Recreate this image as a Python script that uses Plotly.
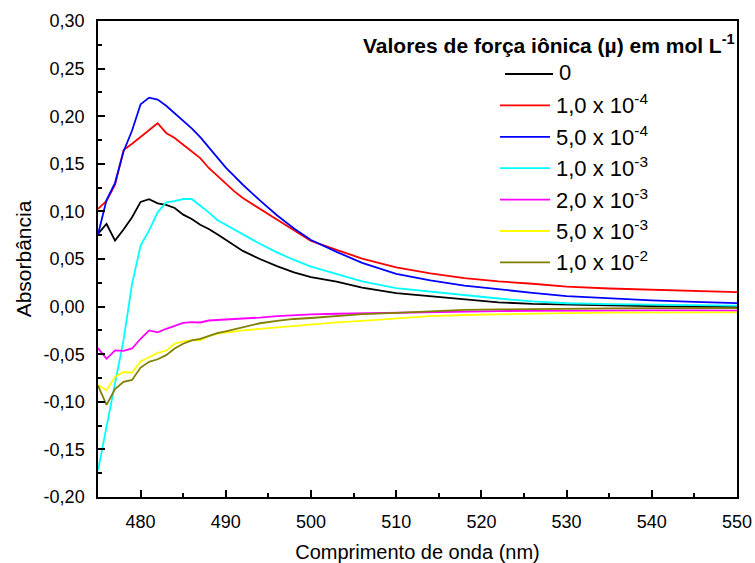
import plotly.graph_objects as go

# Wavelength grid (nm)
wavelength = [475, 476, 477, 478, 479, 480, 481, 482, 483, 484, 485, 486, 487, 488, 489, 490, 491, 492,
              494, 496, 498, 500, 503, 506, 510, 514, 518, 522, 526, 530, 535, 540, 545, 550]

# Absorbance for each ionic strength
abs_0 = [0.0763, 0.0868, 0.0693, 0.0809, 0.0938, 0.1100, 0.1128, 0.1085, 0.1068, 0.1036, 0.0966, 0.0920,
         0.0860, 0.0816, 0.0760, 0.0700, 0.0640, 0.0585,
         0.0500, 0.0425, 0.0360, 0.0310, 0.0262, 0.0200, 0.0141, 0.0110, 0.0075, 0.0045, 0.0028, 0.0018,
         0.0012, 0.0006, 0.0000, -0.0006]
abs_1e4 = [0.1026, 0.1110, 0.1280, 0.1645, 0.1710, 0.1780, 0.1850, 0.1926, 0.1824, 0.1770, 0.1700, 0.1630,
           0.1560, 0.1456, 0.1375, 0.1290, 0.1210, 0.1140,
           0.1026, 0.0910, 0.0800, 0.0690, 0.0595, 0.0505, 0.0413, 0.0350, 0.0300, 0.0265, 0.0240, 0.0210,
           0.0190, 0.0175, 0.0162, 0.0151]
abs_5e4 = [0.0756, 0.1120, 0.1300, 0.1630, 0.1850, 0.2125, 0.2195, 0.2174, 0.2110, 0.2030, 0.1950, 0.1873,
           0.1780, 0.1670, 0.1560, 0.1460, 0.1370, 0.1280,
           0.1115, 0.0960, 0.0820, 0.0700, 0.0575, 0.0460, 0.0343, 0.0275, 0.0220, 0.0180, 0.0145, 0.0110,
           0.0085, 0.0065, 0.0050, 0.0037]
abs_1e3 = [-0.1720, -0.1260, -0.0810, -0.0350, 0.0240, 0.0640, 0.0800, 0.0990, 0.1096, 0.1107, 0.1130, 0.1130,
           0.1060, 0.0990, 0.0910, 0.0860, 0.0810, 0.0760,
           0.0660, 0.0570, 0.0490, 0.0420, 0.0340, 0.0265, 0.0193, 0.0155, 0.0120, 0.0085, 0.0055, 0.0035,
           0.0025, 0.0020, 0.0015, 0.0010]
abs_2e3 = [-0.0436, -0.0548, -0.0460, -0.0465, -0.0440, -0.0338, -0.0250, -0.0270, -0.0233, -0.0198, -0.0170,
           -0.0163, -0.0167, -0.0146, -0.0142, -0.0133, -0.0130, -0.0125,
           -0.0115, -0.0100, -0.0088, -0.0082, -0.0075, -0.0070, -0.0062, -0.0055, -0.0050, -0.0047, -0.0045,
           -0.0042, -0.0040, -0.0040, -0.0040, -0.0042]
abs_5e3 = [-0.0824, -0.0880, -0.0739, -0.0687, -0.0694, -0.0577, -0.0532, -0.0487, -0.0464, -0.0390, -0.0365,
           -0.0355, -0.0355, -0.0310, -0.0285, -0.0270, -0.0262, -0.0250,
           -0.0234, -0.0215, -0.0200, -0.0185, -0.0165, -0.0150, -0.0125, -0.0100, -0.0088, -0.0080, -0.0073,
           -0.0068, -0.0063, -0.0060, -0.0060, -0.0060]
abs_1e2 = [-0.0830, -0.1033, -0.0866, -0.0790, -0.0770, -0.0640, -0.0580, -0.0553, -0.0510, -0.0440, -0.0390,
           -0.0355, -0.0340, -0.0310, -0.0278, -0.0260, -0.0240, -0.0220,
           -0.0175, -0.0150, -0.0130, -0.0120, -0.0100, -0.0080, -0.0065, -0.0048, -0.0035, -0.0030, -0.0025,
           -0.0020, -0.0018, -0.0017, -0.0017, -0.0017]

series = [abs_0, abs_1e4, abs_5e4, abs_1e3, abs_2e3, abs_5e3, abs_1e2]
labels = ["0", "1,0 x 10<sup>-4</sup>", "5,0 x 10<sup>-4</sup>", "1,0 x 10<sup>-3</sup>",
          "2,0 x 10<sup>-3</sup>", "5,0 x 10<sup>-3</sup>", "1,0 x 10<sup>-2</sup>"]
colors = ["#000000", "#FF0000", "#0000FF", "#00FFFF", "#FF00FF", "#FFFF00", "#808000"]

# Y-axis ticks (comma decimals, plain hyphen for negatives)
y_tickvals = [-0.20, -0.15, -0.10, -0.05, 0.00, 0.05, 0.10, 0.15, 0.20, 0.25, 0.30]
y_ticktext = ["-0,20", "-0,15", "-0,10", "-0,05", "0,00", "0,05", "0,10", "0,15", "0,20", "0,25", "0,30"]

legend_title = "<b>Valores de força iônica (µ) em mol L<sup>-1</sup></b>"

FONT = "Liberation Sans, Arial, sans-serif"

fig = go.Figure()
for y, name, c in zip(series, labels, colors):
    fig.add_trace(go.Scatter(x=wavelength, y=y, mode="lines", name=name,
                             line=dict(color=c, width=1.8), showlegend=False))

# Hand-placed legend block (paper coordinates)
W, H = 755, 563
L, R, T, B = 98, 18, 21, 66
pw, ph = W - L - R, H - T - B


def px_x(px):
    return (px - L) / pw


def px_y(py):
    return (H - B - py) / ph


shapes = []
annotations = []
for i, (name, c) in enumerate(zip(labels, colors)):
    yy = 74 + i * 31.4
    x0, x1 = (505, 553) if i == 0 else (500, 550)
    shapes.append(dict(type="line", xref="paper", yref="paper",
                       x0=px_x(x0), x1=px_x(x1), y0=px_y(yy), y1=px_y(yy),
                       line=dict(color=c, width=1.8)))
    annotations.append(dict(xref="paper", yref="paper", x=px_x(x1 + 4), y=px_y(yy - 1),
                            xanchor="left", yanchor="middle", text=name, showarrow=False,
                            font=dict(family=FONT, size=22, color="black")))
annotations.append(dict(xref="paper", yref="paper", x=px_x(737), y=px_y(44),
                        xanchor="right", yanchor="middle", text=legend_title, showarrow=False,
                        font=dict(family=FONT, size=21, color="black")))

fig.update_layout(
    width=W, height=H,
    margin=dict(l=L, r=R, t=T, b=B),
    paper_bgcolor="white", plot_bgcolor="white",
    font=dict(family=FONT, size=18, color="black"),
    shapes=shapes, annotations=annotations,
    xaxis=dict(range=[475, 550], dtick=10, tick0=480, showgrid=False, zeroline=False,
               showline=True, linecolor="black", linewidth=1.5, mirror=True, automargin=False,
               ticks="inside", ticklen=7, tickwidth=1.5, tickcolor="black",
               minor=dict(dtick=5, ticks="inside", ticklen=4, tickwidth=1.5, tickcolor="black"),
               ticklabelstandoff=8,
               title=dict(text="Comprimento de onda (nm)", font=dict(size=20), standoff=14),
               tickfont=dict(size=18)),
    yaxis=dict(range=[-0.20, 0.30], tickmode="array", tickvals=y_tickvals, ticktext=y_ticktext,
               showgrid=False, zeroline=False, showline=True, linecolor="black", linewidth=1.5,
               mirror=True, automargin=False,
               ticks="inside", ticklen=7, tickwidth=1.5, tickcolor="black",
               minor=dict(dtick=0.025, tick0=0, ticks="inside", ticklen=4, tickwidth=1.5,
                          tickcolor="black"),
               ticklabelstandoff=8,
               title=dict(text="Absorbância", font=dict(size=21), standoff=6),
               tickfont=dict(size=18)),
)

fig.write_html("out.html")
